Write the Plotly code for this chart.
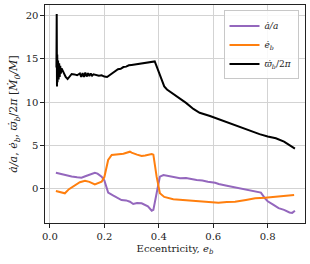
import plotly.graph_objects as go

# black: precession rate
e_w = [0.024, 0.025, 0.026, 0.027, 0.028, 0.030, 0.032, 0.034, 0.036, 0.038, 0.040, 0.043, 0.047,
       0.052, 0.058, 0.065, 0.072, 0.080, 0.090, 0.100, 0.110, 0.115, 0.120, 0.125, 0.130, 0.135,
       0.140, 0.145, 0.150, 0.155, 0.160, 0.170, 0.180, 0.190, 0.200, 0.210, 0.220, 0.230, 0.240,
       0.250, 0.260, 0.270, 0.280, 0.290, 0.300, 0.310, 0.320, 0.330, 0.340, 0.350, 0.360, 0.370,
       0.380, 0.385, 0.390, 0.395, 0.400, 0.405, 0.410, 0.420, 0.430, 0.450, 0.480, 0.500, 0.527,
       0.550, 0.588, 0.620, 0.660, 0.700, 0.740, 0.770, 0.800, 0.830, 0.860, 0.880, 0.900]
w_dot = [14.0, 20.2, 11.8, 15.5, 12.3, 14.8, 12.6, 14.5, 12.9, 14.2, 13.3, 13.9, 13.6,
         13.3, 12.9, 12.66, 12.9, 13.25, 13.2, 13.1, 13.3, 12.9, 13.35, 12.9, 13.4, 12.95,
         13.35, 13.0, 13.3, 13.05, 13.2, 13.15, 13.05, 13.1, 12.95, 12.9, 13.1, 13.4, 13.6,
         13.8, 13.85, 14.05, 14.1, 14.25, 14.3, 14.35, 14.4, 14.45, 14.55, 14.6, 14.6, 14.7,
         14.75, 14.7, 14.3, 13.9, 13.4, 12.9, 12.5, 11.8, 11.45, 11.0, 10.4, 9.9, 9.2,
         8.75, 8.38, 8.0, 7.55, 7.14, 6.65, 6.28, 6.0, 5.8, 5.4, 5.0, 4.6]

# purple: adot/a
e_a = [0.022, 0.040, 0.060, 0.080, 0.100, 0.116, 0.130, 0.150, 0.165, 0.175, 0.185, 0.190, 0.200,
       0.210, 0.214, 0.230, 0.250, 0.263, 0.280, 0.294, 0.306, 0.320, 0.337, 0.350, 0.360, 0.374,
       0.380, 0.392, 0.404, 0.417, 0.440, 0.460, 0.478, 0.500, 0.520, 0.539, 0.560, 0.580, 0.607,
       0.620, 0.650, 0.680, 0.720, 0.760, 0.775, 0.790, 0.800, 0.820, 0.840, 0.860, 0.880, 0.890,
       0.900]
a_dot = [1.81, 1.65, 1.5, 1.38, 1.28, 1.23, 1.4, 1.65, 1.8, 1.7, 1.5, 1.35, 0.9,
         -0.1, -0.5, -0.8, -1.1, -1.36, -1.4, -1.55, -1.82, -1.7, -1.74, -1.9, -2.1, -2.6,
         -2.5, -0.58, 1.35, 1.54, 1.4, 1.3, 1.16, 1.2, 1.05, 0.96, 0.9, 0.75, 0.65,
         0.5, 0.3, 0.1, -0.15, -0.4, -0.5, -1.16, -1.5, -1.9, -2.3, -2.5, -2.8, -2.85,
         -2.6]

# orange: edot
e_e = [0.022, 0.035, 0.055, 0.070, 0.092, 0.110, 0.129, 0.145, 0.165, 0.180, 0.190, 0.200, 0.207,
       0.214, 0.227, 0.250, 0.270, 0.294, 0.300, 0.320, 0.337, 0.350, 0.374, 0.380, 0.392, 0.404,
       0.420, 0.453, 0.500, 0.539, 0.580, 0.619, 0.650, 0.680, 0.720, 0.754, 0.790, 0.830, 0.870,
       0.897]
e_dot = [-0.31, -0.4, -0.58, -0.1, 0.38, 0.7, 0.88, 0.75, 0.46, 0.6, 0.76, 1.3, 2.3,
         3.28, 3.86, 3.95, 4.0, 4.24, 4.13, 3.9, 3.74, 3.8, 3.97, 3.9, 1.35, -0.58,
         -1.0, -1.27, -1.4, -1.47, -1.6, -1.67, -1.6, -1.55, -1.35, -1.16, -1.1, -0.95, -0.85,
         -0.78]

x_ticks = [0.0, 0.2, 0.4, 0.6, 0.8]
y_ticks = [0, 5, 10, 15, 20]

FONT = "DejaVu Serif"

fig = go.Figure()
fig.add_trace(go.Scatter(x=e_a, y=a_dot, mode="lines", name="<i>ȧ/a</i>",
                         line=dict(color="#9467bd", width=2)))
fig.add_trace(go.Scatter(x=e_e, y=e_dot, mode="lines", name="<i>ė<sub>b</sub></i>",
                         line=dict(color="#ff7f0e", width=2)))
fig.add_trace(go.Scatter(x=e_w, y=w_dot, mode="lines", name="<i>ϖ̇<sub>b</sub></i>/2<i>π</i>",
                         line=dict(color="black", width=2)))

axis_common = dict(showgrid=True, gridcolor="#d3d3d3", gridwidth=0.8, zeroline=False,
                   showline=True, linecolor="#222", linewidth=1.2, mirror=True,
                   ticks="outside", ticklen=3.5, tickwidth=1, tickcolor="#222",
                   automargin=False,
                   tickfont=dict(family=FONT, size=10, color="#222"))

fig.update_layout(
    width=310, height=264,
    margin=dict(l=45, r=5, t=5, b=41),
    paper_bgcolor="white", plot_bgcolor="white",
    font=dict(family=FONT, size=10, color="#222"),
    showlegend=True,
    legend=dict(x=0.975, y=0.975, xanchor="right", yanchor="top",
                bgcolor="rgba(255,255,255,0.85)", bordercolor="#c8c8c8", borderwidth=1,
                font=dict(family=FONT, size=9), tracegroupgap=0, itemwidth=30),
    xaxis=dict(range=[-0.018, 0.937], tickvals=x_ticks,
               ticktext=["0.0", "0.2", "0.4", "0.6", "0.8"],
               title=dict(text="Eccentricity, <i>e<sub>b</sub></i>", font=dict(family=FONT, size=10),
                          standoff=4),
               **axis_common),
    yaxis=dict(range=[-4.02, 21.24], tickvals=y_ticks,
               title=dict(text="<i>ȧ/a</i>, <i>ė<sub>b</sub></i>, <i>ϖ̇<sub>b</sub></i>/2<i>π</i> [<i>Ṁ<sub>0</sub>/M</i>]",
                          font=dict(family=FONT, size=11), standoff=5),
               **axis_common),
)

fig.write_html("out.html", config={"displayModeBar": False},
               post_script="document.body.style.margin='0';")
